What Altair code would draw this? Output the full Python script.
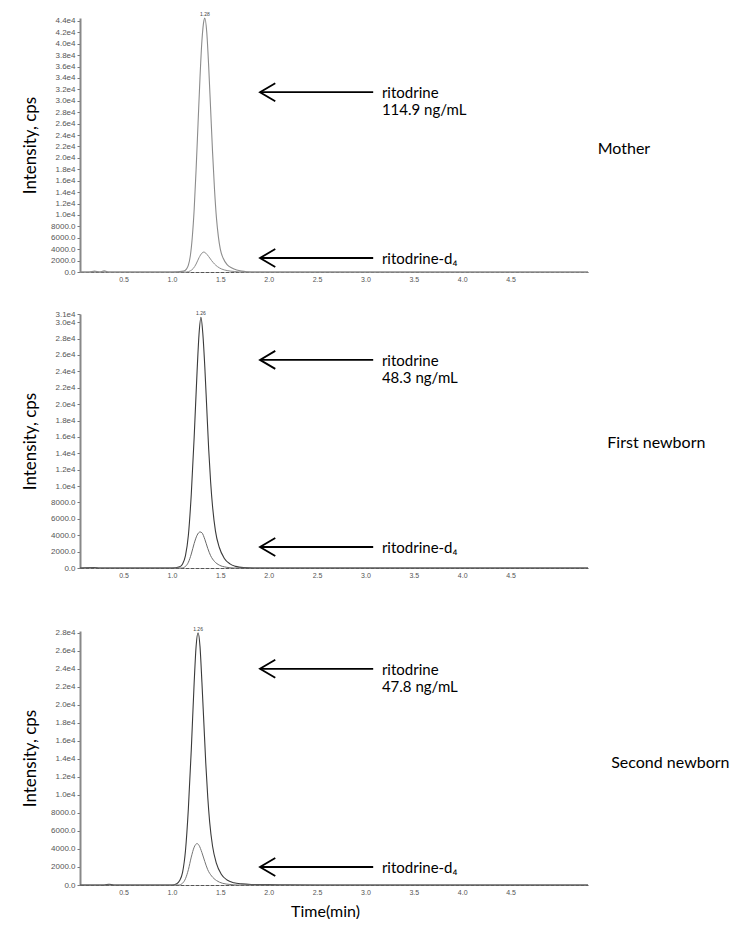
import altair as alt
import pandas as pd

# ---------------- data ----------------
panel_names = ["Mother", "First newborn", "Second newborn"]
concentrations = ["114.9 ng/mL", "48.3 ng/mL", "47.8 ng/mL"]
peak_rt_labels = ["1.28", "1.26", "1.26"]
y_domain_max = [44500, 31000, 28200]
y_tick_values = [
    list(range(0, 44001, 2000)),
    list(range(0, 30001, 2000)) + [31000],
    list(range(0, 28001, 2000)),
]
x_tick_values = [0.5, 1.0, 1.5, 2.0, 2.5, 3.0, 3.5, 4.0, 4.5]

# ritodrine traces (time in min, intensity in cps)
t_main_1 = [0.05, 0.15, 0.2, 0.25, 0.3, 0.35, 0.5, 0.8, 1.0, 1.12, 1.15, 1.17, 1.19, 1.21, 1.23, 1.25, 1.27, 1.29,
            1.31, 1.33, 1.34, 1.36, 1.38, 1.40, 1.42, 1.44, 1.46, 1.48, 1.50, 1.53, 1.57, 1.62, 1.67, 1.72, 1.77,
            1.87, 2.5, 3.5, 4.5, 5.3]
i_main_1 = [0, 0, 150, 0, 200, 0, 0, 0, 0, 150, 500, 1200, 2800, 6000, 11000, 18000, 26000, 34000,
            40500, 44000, 44500, 42000, 36000, 28500, 21000, 14500, 9500, 6200, 4000, 2400, 1300, 700, 350, 150, 50,
            0, 0, 0, 0, 0]
t_main_2 = [0.05, 0.2, 0.25, 0.3, 0.6, 1.0, 1.08, 1.11, 1.14, 1.17, 1.20, 1.23, 1.26, 1.28, 1.30, 1.32, 1.34, 1.36,
            1.38, 1.40, 1.42, 1.45, 1.49, 1.54, 1.60, 1.66, 1.74, 1.84, 2.5, 3.5, 4.5, 5.3]
i_main_2 = [0, 60, 0, 0, 0, 0, 150, 500, 1500, 4000, 9000, 16000, 24000, 28500, 30600, 28500, 24500, 19500,
            14500, 10500, 7500, 4500, 2500, 1200, 500, 200, 50, 0, 0, 0, 0, 0]
t_main_3 = [0.05, 0.3, 0.35, 0.4, 0.6, 1.0, 1.05, 1.08, 1.11, 1.14, 1.17, 1.20, 1.23, 1.25, 1.27, 1.29, 1.31, 1.33,
            1.35, 1.37, 1.39, 1.42, 1.46, 1.51, 1.57, 1.64, 1.72, 1.82, 2.0, 2.2, 2.5, 3.5, 4.5, 5.3]
i_main_3 = [0, 0, 80, 0, 0, 0, 150, 500, 1400, 3800, 8500, 15000, 22500, 26500, 28000, 26500, 22500, 18000,
            13500, 9800, 7000, 4300, 2400, 1200, 550, 250, 120, 60, 40, 20, 0, 0, 0, 0]

# ritodrine-d4 traces
t_is_1 = [0.05, 1.0, 1.15, 1.19, 1.22, 1.25, 1.28, 1.31, 1.33, 1.35, 1.38, 1.41, 1.44, 1.47, 1.51, 1.57, 1.65, 1.72,
          2.0, 3.0, 4.0, 5.3]
i_is_1 = [0, 0, 0, 200, 600, 1400, 2500, 3300, 3500, 3300, 2700, 2000, 1400, 950, 550, 250, 80, 0,
          0, 0, 0, 0]
t_is_2 = [0.05, 1.0, 1.10, 1.14, 1.17, 1.20, 1.23, 1.26, 1.29, 1.31, 1.34, 1.37, 1.40, 1.44, 1.49, 1.56, 1.64,
          2.0, 3.0, 4.0, 5.3]
i_is_2 = [0, 0, 0, 200, 700, 1700, 3000, 4000, 4400, 4300, 3500, 2400, 1500, 800, 350, 100, 0,
          0, 0, 0, 0]
t_is_3 = [0.05, 1.0, 1.07, 1.11, 1.14, 1.17, 1.20, 1.23, 1.26, 1.28, 1.31, 1.34, 1.37, 1.41, 1.46, 1.52, 1.60, 1.68,
          2.0, 3.0, 4.0, 5.3]
i_is_3 = [0, 0, 0, 200, 700, 1700, 3100, 4200, 4600, 4400, 3600, 2600, 1700, 1000, 500, 200, 60, 0,
          0, 0, 0, 0]

main_traces = [(t_main_1, i_main_1), (t_main_2, i_main_2), (t_main_3, i_main_3)]
is_traces = [(t_is_1, i_is_1), (t_is_2, i_is_2), (t_is_3, i_is_3)]

# annotation anchors (data units)
arrow_tip_t = 1.91
arrow_end_t = 3.08
label_t = 3.17
side_label_t = [5.40, 5.50, 5.54]
arrow_upper_y = [31500, 25400, 24000]
arrow_lower_y = [2450, 2560, 2000]
side_label_y = [21500, 15250, 13600]
peak_apex_t = [1.34, 1.30, 1.27]
peak_apex_y = [44500, 30600, 28000]

main_colors = ["#8c8c8c", "#3a3a3a", "#3a3a3a"]
is_colors = ["#8c8c8c", "#6a6a6a", "#777777"]

FONT = "Lato"
W, H = 508, 254


def make_panel(k, show_xtitle):
    xdom = [0.05, 5.3]
    x_axis = alt.Axis(values=x_tick_values, format=".1f", labelFontSize=7, labelColor="#555",
                      labelFont="Arial", ticks=False, labelPadding=3, grid=False,
                      domainColor="#555", domainWidth=1, domainDash=[4, 1],
                      title="Time(min)" if show_xtitle else None,
                      titleFont=FONT, titleFontSize=16, titleFontWeight="normal", titleColor="black",
                      titlePadding=8, titleX=245, titleAlign="center")
    y_axis = alt.Axis(values=y_tick_values[k], labelOverlap=False,
                      labelExpr="datum.value >= 10000 ? format(datum.value/10000, '.1f') + 'e4' : format(datum.value, '.1f')",
                      labelFontSize=8, labelColor="#555", labelFont="Arial", tickSize=3, tickColor="#777",
                      grid=False, domainColor="#888", domainWidth=2, labelPadding=2,
                      title="Intensity, cps", titleFont=FONT, titleFontSize=17, titleFontWeight="normal",
                      titleColor="black", titlePadding=11)
    xs = alt.Scale(domain=xdom, nice=False, zero=False)
    ys = alt.Scale(domain=[0, y_domain_max[k]], nice=False)

    tm, im = main_traces[k]
    ti, ii = is_traces[k]
    df_main = pd.DataFrame({"t": tm, "i": im})
    df_is = pd.DataFrame({"t": ti, "i": ii})

    bx = alt.X("t:Q", scale=xs, axis=x_axis)
    by = alt.Y("i:Q", scale=ys, axis=y_axis)

    line_main = alt.Chart(df_main).mark_line(color=main_colors[k], strokeWidth=1.1,
                                             interpolate="monotone").encode(x=bx, y=by)
    line_is = alt.Chart(df_is).mark_line(color=is_colors[k], strokeWidth=1.0,
                                         interpolate="monotone").encode(x=bx, y=by)

    df_arrows = pd.DataFrame({
        "t": [arrow_tip_t, arrow_tip_t],
        "t2": [arrow_end_t, arrow_end_t],
        "i": [arrow_upper_y[k], arrow_lower_y[k]],
    })
    shafts = alt.Chart(df_arrows).mark_rule(color="black", strokeWidth=1.8).encode(
        x=bx, x2="t2:Q", y=by)
    heads = alt.Chart(df_arrows).mark_point(shape="M1.7,-1L0,0L1.7,1", size=324, filled=False,
                                            strokeWidth=1.8, color="black", opacity=1).encode(
        x=bx, y=by)

    df_lab = pd.DataFrame({
        "t": [label_t, label_t],
        "i": [arrow_upper_y[k], arrow_lower_y[k]],
        "txt": [["ritodrine", concentrations[k]], ["ritodrine-d\u2084"]],
    })
    labels = alt.Chart(df_lab).mark_text(align="left", baseline="middle", font=FONT, fontSize=15,
                                         lineHeight=17, color="black", dy=1).encode(
        x=bx, y=by, text="txt")

    df_side = pd.DataFrame({"t": [side_label_t[k]], "i": [side_label_y[k]], "txt": [panel_names[k]]})
    side = alt.Chart(df_side).mark_text(align="left", baseline="middle", font=FONT, fontSize=16,
                                        color="black").encode(x=bx, y=by, text="txt:N")

    df_rt = pd.DataFrame({"t": [peak_apex_t[k]], "i": [peak_apex_y[k]], "txt": [peak_rt_labels[k]]})
    rt = alt.Chart(df_rt).mark_text(align="center", baseline="bottom", font="Arial", fontSize=5,
                                    color="#444", dy=-1).encode(x=bx, y=by, text="txt:N")

    return alt.layer(line_main, line_is, shafts, heads, labels, side, rt).properties(width=W, height=H)


p1 = make_panel(0, False)
p2 = make_panel(1, False)
p3 = make_panel(2, True)

chart = alt.vconcat(alt.vconcat(p1, p2, spacing=28), p3, spacing=48).properties(
    padding={"left": 13, "top": 4, "right": 0, "bottom": 0}
).configure_view(stroke=None).configure_axis(labelOverlap=False)

chart.save("out.html", embed_options={"renderer": "svg", "actions": False})
